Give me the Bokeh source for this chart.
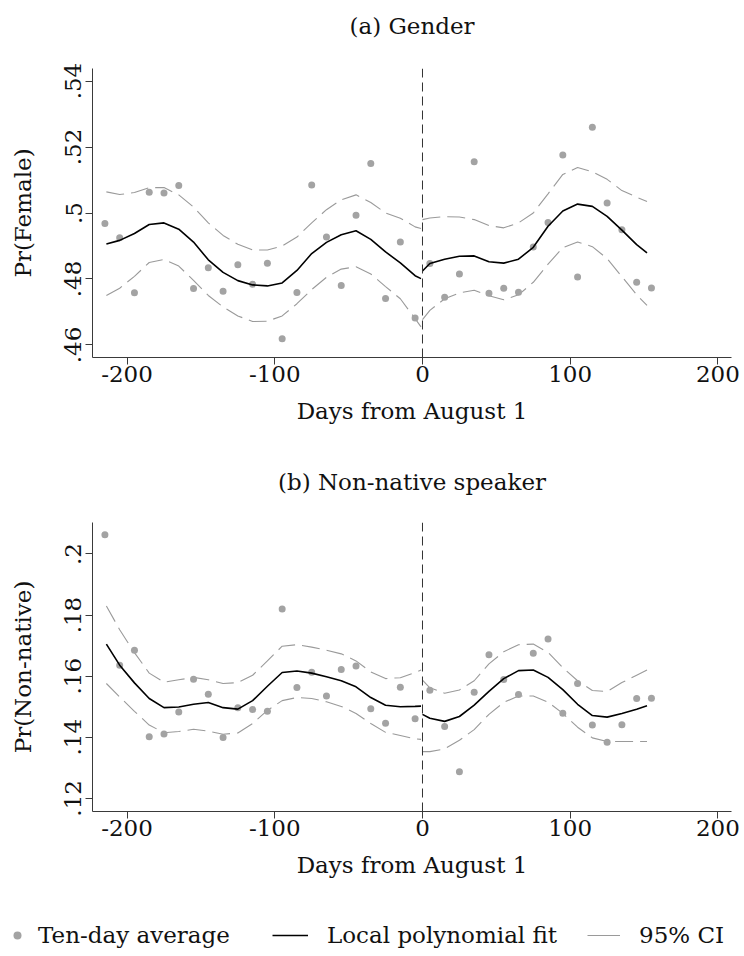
from bokeh.plotting import figure
from bokeh.models import Range1d, FixedTicker, Span, Legend, LegendItem, Title
from bokeh.layouts import column
from bokeh.embed import file_html
from bokeh.resources import INLINE

FONT = "DejaVu Serif"
FS = "23px"

# ---------------- data ----------------
days_pts = [-215, -205, -195, -185, -175, -165, -155, -145, -135, -125, -115,
            -105, -95, -85, -75, -65, -55, -45, -35, -25, -15, -5,
            5, 15, 25, 35, 45, 55, 65, 75, 85, 95, 105, 115, 125, 135, 145, 155]

female_pts = [0.4968, 0.4925, 0.4758, 0.5063, 0.5061, 0.5083, 0.4771, 0.4834,
              0.4763, 0.4843, 0.4784, 0.4848, 0.4619, 0.4759, 0.5085, 0.4927,
              0.4780, 0.4993, 0.5150, 0.4741, 0.4912, 0.4682,
              0.4847, 0.4745, 0.4815, 0.5155, 0.4757, 0.4772, 0.4760, 0.4897,
              0.4971, 0.5176, 0.4806, 0.5260, 0.5030, 0.4949, 0.4790, 0.4773]

nonnative_pts = [0.2063, 0.1636, 0.1685, 0.1402, 0.1411, 0.1483, 0.1590, 0.1541,
                 0.1399, 0.1497, 0.1491, 0.1485, 0.1820, 0.1563, 0.1613, 0.1535,
                 0.1622, 0.1633, 0.1493, 0.1446, 0.1564, 0.1461,
                 0.1554, 0.1435, 0.1287, 0.1547, 0.1670, 0.1589, 0.1540, 0.1675,
                 0.1722, 0.1479, 0.1576, 0.1440, 0.1384, 0.1441, 0.1527, 0.1528]

fit_days_left = [-214, -205, -195, -185, -175, -165, -155, -145, -135, -125, -115,
                 -105, -95, -85, -75, -65, -55, -45, -35, -25, -15, -5, -1]
fit_days_right = [0, 5, 15, 25, 35, 45, 55, 65, 75, 85, 95, 105, 115, 125, 135,
                  145, 152]

female_fit_left = [0.4906, 0.4917, 0.4938, 0.4965, 0.4970, 0.4951, 0.4912, 0.4858,
                   0.4820, 0.4795, 0.4782, 0.4779, 0.4788, 0.4826, 0.4877, 0.4911,
                   0.4934, 0.4946, 0.4920, 0.4882, 0.4849, 0.4810, 0.4801]
female_fit_right = [0.4824, 0.4847, 0.4860, 0.4869, 0.4870, 0.4852, 0.4848, 0.4860,
                    0.4896, 0.4960, 0.5006, 0.5027, 0.5020, 0.4990, 0.4948, 0.4904,
                    0.4879]
female_hi_left = [0.5064, 0.5056, 0.5062, 0.5077, 0.5077, 0.5055, 0.5018, 0.4970,
                  0.4932, 0.4905, 0.4888, 0.4888, 0.4900, 0.4927, 0.4970, 0.5010,
                  0.5040, 0.5055, 0.5032, 0.5000, 0.4984, 0.4958, 0.4953]
female_hi_right = [0.4980, 0.4985, 0.4989, 0.4988, 0.4980, 0.4962, 0.4955, 0.4970,
                   0.5000, 0.5058, 0.5117, 0.5138, 0.5125, 0.5102, 0.5068, 0.5048,
                   0.5035]
female_lo_left = [0.4750, 0.4772, 0.4808, 0.4850, 0.4859, 0.4839, 0.4796, 0.4750,
                  0.4715, 0.4688, 0.4671, 0.4672, 0.4688, 0.4725, 0.4768, 0.4805,
                  0.4830, 0.4837, 0.4815, 0.4777, 0.4740, 0.4680, 0.4655]
female_lo_right = [0.4677, 0.4705, 0.4740, 0.4758, 0.4766, 0.4749, 0.4737, 0.4752,
                   0.4790, 0.4845, 0.4895, 0.4912, 0.4898, 0.4862, 0.4807, 0.4752,
                   0.4720]

nonnative_fit_left = [0.1705, 0.1636, 0.1578, 0.1527, 0.1497, 0.1499, 0.1508, 0.1514,
                      0.1497, 0.1492, 0.1520, 0.1567, 0.1612, 0.1617, 0.1610, 0.1598,
                      0.1585, 0.1565, 0.1530, 0.1505, 0.1500, 0.1501, 0.1502]
nonnative_fit_right = [0.1475, 0.1462, 0.1452, 0.1468, 0.1505, 0.1550, 0.1592, 0.1618,
                       0.1620, 0.1596, 0.1556, 0.1508, 0.1471, 0.1466, 0.1478, 0.1492,
                       0.1503]
nonnative_hi_left = [0.1830, 0.1752, 0.1677, 0.1610, 0.1580, 0.1588, 0.1596, 0.1588,
                     0.1576, 0.1579, 0.1603, 0.1650, 0.1698, 0.1703, 0.1695, 0.1685,
                     0.1673, 0.1650, 0.1614, 0.1592, 0.1595, 0.1612, 0.1620]
nonnative_hi_right = [0.1587, 0.1562, 0.1544, 0.1555, 0.1585, 0.1640, 0.1680, 0.1703,
                      0.1705, 0.1678, 0.1628, 0.1585, 0.1553, 0.1550, 0.1579, 0.1603,
                      0.1620]
nonnative_lo_left = [0.1576, 0.1532, 0.1485, 0.1440, 0.1415, 0.1419, 0.1426, 0.1420,
                     0.1410, 0.1414, 0.1445, 0.1488, 0.1520, 0.1530, 0.1527, 0.1516,
                     0.1501, 0.1478, 0.1445, 0.1416, 0.1406, 0.1395, 0.1393]
nonnative_lo_right = [0.1353, 0.1353, 0.1362, 0.1390, 0.1425, 0.1475, 0.1514, 0.1535,
                      0.1535, 0.1515, 0.1478, 0.1433, 0.1398, 0.1386, 0.1386, 0.1386,
                      0.1386]

x_ticks = [-200, -100, 0, 100, 200]
x_tick_labels = ["-200", "-100", "0", "100", "200"]
female_ticks = [0.46, 0.48, 0.50, 0.52, 0.54]
female_tick_labels = [".46", ".48", ".5", ".52", ".54"]
nonnative_ticks = [0.12, 0.14, 0.16, 0.18, 0.20]
nonnative_tick_labels = [".12", ".14", ".16", ".18", ".2"]

legend_labels = ["Ten-day average", "Local polynomial fit", "95% CI"]

PT_COLOR = "#a3a3a3"
CI_COLOR = "#9a9a9a"
AX_COLOR = "#3a3a3a"
TXT = "#111111"


def make_panel(title, ylabel, pts, fl, fr, hl, hr, ll, lr, yr, ticks, labels,
               height, border_top, border_bottom, spacer_standoff):
    p = figure(width=744, height=height, output_backend="svg", title=None,
               toolbar_location=None, x_range=Range1d(-223.4, 209.2),
               y_range=Range1d(*yr), min_border_left=92, min_border_right=13,
               min_border_top=border_top, min_border_bottom=border_bottom)
    p.outline_line_color = None
    p.grid.visible = False
    # spacer between the frame and the panel title
    p.add_layout(Title(text=" ", text_font_size="1px", standoff=spacer_standoff),
                 "above")
    p.add_layout(Title(text=title, align="center", text_font=FONT,
                       text_font_size=FS, text_font_style="normal",
                       text_color=TXT, standoff=19), "above")

    for ax in (p.xaxis[0], p.yaxis[0]):
        ax.axis_line_color = AX_COLOR
        ax.major_tick_line_color = AX_COLOR
        ax.major_tick_out = 7
        ax.major_tick_in = 0
        ax.minor_tick_line_color = None
        ax.major_label_text_font = FONT
        ax.major_label_text_font_size = FS
        ax.major_label_text_color = TXT
        ax.axis_label_text_font = FONT
        ax.axis_label_text_font_size = FS
        ax.axis_label_text_font_style = "normal"
        ax.axis_label_text_color = TXT

    p.xaxis.ticker = FixedTicker(ticks=x_ticks)
    p.xaxis.major_label_overrides = {t: s for t, s in zip(x_ticks, x_tick_labels)}
    p.xaxis.axis_label = "Days from August 1"
    p.xaxis.major_label_standoff = 1
    p.xaxis.axis_label_standoff = 13
    p.yaxis.ticker = FixedTicker(ticks=ticks)
    p.yaxis.major_label_overrides = {t: s for t, s in zip(ticks, labels)}
    p.yaxis.major_label_orientation = "vertical"
    p.yaxis.axis_label = ylabel
    p.yaxis.major_label_standoff = 4
    p.yaxis.axis_label_standoff = 27

    p.add_layout(Span(location=0, dimension="height", line_color="#333333",
                      line_width=1, line_dash="9 5"))

    for d, lo, hi in ((fit_days_left, ll, hl), (fit_days_right, lr, hr)):
        p.line(d, hi, line_color=CI_COLOR, line_width=1.1, line_dash="18 7")
        p.line(d, lo, line_color=CI_COLOR, line_width=1.1, line_dash="18 7")
    p.scatter(days_pts, pts, size=7, color=PT_COLOR, line_color=None)
    p.line(fit_days_left, fl, line_color="black", line_width=1.6)
    p.line(fit_days_right, fr, line_color="black", line_width=1.6)
    return p


top = make_panel("(a) Gender", "Pr(Female)", female_pts,
                 female_fit_left, female_fit_right, female_hi_left, female_hi_right,
                 female_lo_left, female_lo_right, (0.4562, 0.5438),
                 female_ticks, female_tick_labels, 440, 68, 83, 17)
bottom = make_panel("(b) Non-native speaker", "Pr(Non-native)", nonnative_pts,
                    nonnative_fit_left, nonnative_fit_right, nonnative_hi_left,
                    nonnative_hi_right, nonnative_lo_left, nonnative_lo_right,
                    (0.1157, 0.2103), nonnative_ticks, nonnative_tick_labels,
                    440, 82, 69, 15)

# legend strip (renderers carry no visible data; they only style the keys)
NAN = float("nan")
leg = figure(width=744, height=76, output_backend="svg", toolbar_location=None,
             x_range=Range1d(0, 1), y_range=Range1d(0, 1), min_border=0)
leg.frame_align = False
leg.axis.visible = False
leg.grid.visible = False
leg.outline_line_color = None
r_pt = leg.scatter([NAN], [NAN], size=7, color=PT_COLOR, line_color=None)
r_fit = leg.line([NAN], [NAN], line_color="black", line_width=1.6)
r_ci = leg.line([NAN], [NAN], line_color=CI_COLOR, line_width=1.1)

for label, rend, gw, stand, xloc in ((legend_labels[0], r_pt, 20, 11, 7),
                                      (legend_labels[1], r_fit, 36, 19, 272),
                                      (legend_labels[2], r_ci, 33, 19, 587)):
    lg = Legend(items=[LegendItem(label=label, renderers=[rend])],
                location=(xloc, 8), orientation="horizontal",
                glyph_width=gw, glyph_height=20, label_standoff=stand,
                padding=0, margin=0, border_line_color=None,
                background_fill_alpha=0, label_text_font=FONT,
                label_text_font_size=FS, label_text_color=TXT)
    leg.add_layout(lg)

layout = column(top, bottom, leg)
open("out.html", "w").write(file_html(layout, INLINE))
